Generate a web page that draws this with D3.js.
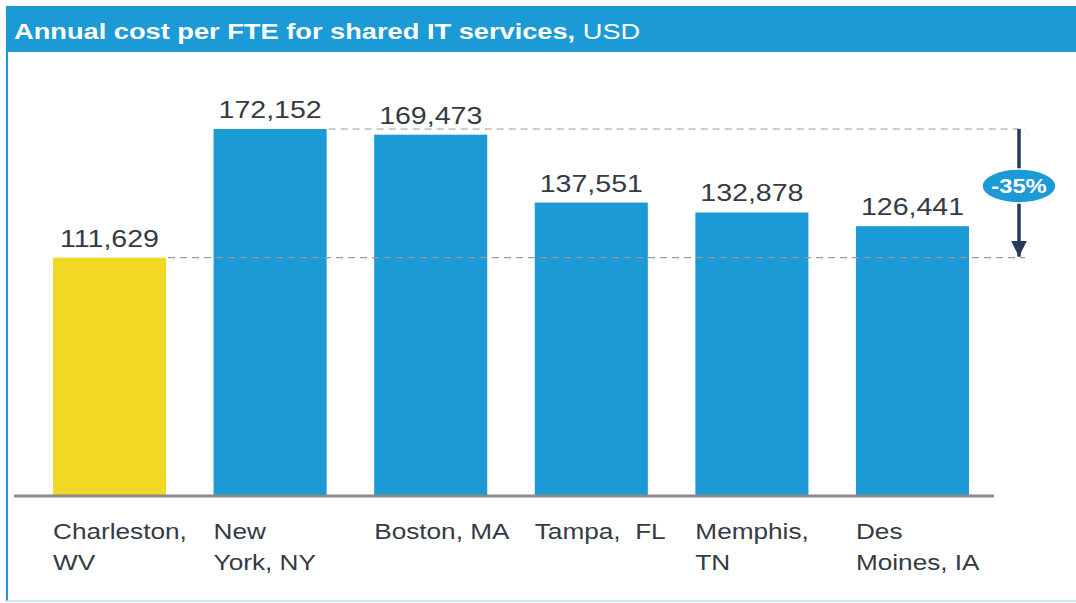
<!DOCTYPE html>
<html>
<head>
<meta charset="utf-8">
<script src="https://cdn.jsdelivr.net/npm/d3@7"></script>
<style>
  body { margin: 0; background: #fff; font-family: "Liberation Sans", Arial, sans-serif; }
</style>
</head>
<body>
<div id="chart"></div>
<script>
// --- Data ---
const cities = ["Charleston, WV", "New York, NY", "Boston, MA", "Tampa, FL", "Memphis, TN", "Des Moines, IA"];
const cityLines = [["Charleston,", "WV"], ["New", "York, NY"], ["Boston, MA"], ["Tampa,  FL"], ["Memphis,", "TN"], ["Des", "Moines, IA"]];
const costs = [111629, 172152, 169473, 137551, 132878, 126441];
const highlight = ["Charleston, WV"];
const deltaLabel = "-35%";

const width = 1076;
const height = 603;
const baseY = 495;
const stretch = 1.19; // text in the original is drawn a bit wide

const svg = d3.select("#chart").append("svg")
  .attr("width", width)
  .attr("height", height);

// helper: text placed at (x, y), widened horizontally
function wideText(parent, px, py, sx = stretch) {
  return parent.append("text")
    .attr("transform", `translate(${px},${py}) scale(${sx},1)`);
}

// frame + header
svg.append("rect")
  .attr("x", 7).attr("y", 6).attr("width", width - 7).attr("height", 46)
  .attr("fill", "#1b9ad6");
svg.append("line")
  .attr("x1", 7).attr("x2", 7).attr("y1", 6).attr("y2", 601)
  .attr("stroke", "#1b9ad6").attr("stroke-width", 2);
svg.append("line")
  .attr("x1", 7).attr("x2", width).attr("y1", 601).attr("y2", 601)
  .attr("stroke", "#cdebf6").attr("stroke-width", 2);

const title = wideText(svg, 14, 39, 1.21)
  .attr("fill", "#fff")
  .style("font-size", "22.5px");
title.append("tspan").attr("font-weight", "bold").text("Annual cost per FTE for shared IT services,");
title.append("tspan").text(" USD");

// scales
const x = d3.scaleBand()
  .domain(cities)
  .range([53, 969])
  .paddingInner(0.296)
  .paddingOuter(0);

const y = d3.scaleLinear()
  .domain([0, 172152])
  .range([baseY, 129]);

// bars
svg.selectAll("rect.bar")
  .data(cities)
  .join("rect")
  .attr("class", "bar")
  .attr("x", (d) => x(d))
  .attr("y", (d, i) => y(costs[i]))
  .attr("width", x.bandwidth())
  .attr("height", (d, i) => baseY - y(costs[i]))
  .attr("fill", (d) => highlight.includes(d) ? "#f0d824" : "#1b9ad6");

// baseline
svg.append("line")
  .attr("x1", 14).attr("x2", 994)
  .attr("y1", baseY + 1).attr("y2", baseY + 1)
  .attr("stroke", "#8a8a8a").attr("stroke-width", 3);

// value labels
cities.forEach((d, i) => {
  wideText(svg, x(d) + x.bandwidth() / 2, y(costs[i]) - 11)
    .attr("text-anchor", "middle")
    .attr("fill", "#333b45")
    .style("font-size", "24px")
    .text(d3.format(",")(costs[i]));
});

// category labels
cities.forEach((d, i) => {
  const t = wideText(svg, x(d), 539)
    .attr("fill", "#333b45")
    .style("font-size", "22px")
    .style("white-space", "pre");
  t.selectAll("tspan")
    .data(cityLines[i])
    .join("tspan")
    .attr("x", 0)
    .attr("dy", (s, j) => j === 0 ? 0 : 31)
    .text((s) => s);
});

// comparison guides
const maxIdx = costs.indexOf(d3.max(costs));
const minIdx = costs.indexOf(d3.min(costs));
const arrowX = 1019;
[maxIdx, minIdx].forEach((k) => {
  svg.append("line")
    .attr("x1", x(cities[k]) + x.bandwidth() + 2).attr("x2", arrowX + 6)
    .attr("y1", y(costs[k])).attr("y2", y(costs[k]))
    .attr("stroke", "#999").attr("stroke-width", 1.2).attr("stroke-dasharray", "7,5");
});

svg.append("defs").append("marker")
  .attr("id", "arrow")
  .attr("viewBox", "0 0 10 10")
  .attr("refX", 10).attr("refY", 5)
  .attr("markerWidth", 4.5).attr("markerHeight", 4.5)
  .attr("orient", "auto")
  .append("path").attr("d", "M0,0L10,5L0,10Z").attr("fill", "#283a5c");

svg.append("line")
  .attr("x1", arrowX).attr("x2", arrowX)
  .attr("y1", y(costs[maxIdx])).attr("y2", y(costs[minIdx]) - 1)
  .attr("stroke", "#283a5c").attr("stroke-width", 3.5)
  .attr("marker-end", "url(#arrow)");

const midY = 186;
svg.append("ellipse")
  .attr("cx", arrowX).attr("cy", midY)
  .attr("rx", 37).attr("ry", 17)
  .attr("fill", "#1b9ad6").attr("stroke", "#fff").attr("stroke-width", 1.5);
wideText(svg, arrowX, midY + 7)
  .attr("text-anchor", "middle")
  .attr("fill", "#fff")
  .attr("font-weight", "bold")
  .style("font-size", "20px")
  .text(deltaLabel);
</script>
</body>
</html>
